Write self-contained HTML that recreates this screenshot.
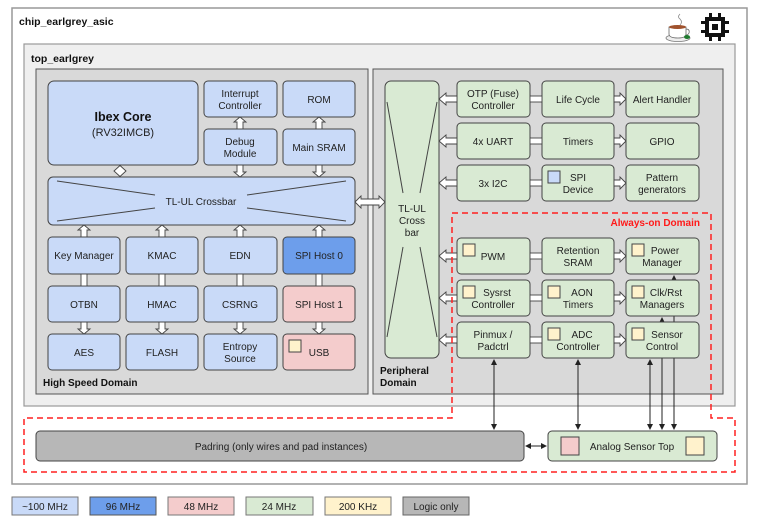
<!DOCTYPE html>
<html><head><meta charset="utf-8"><style>
html,body{margin:0;padding:0;background:#fff;}
svg{display:block;font-family:"Liberation Sans",sans-serif;}
</style></head><body>
<svg width="761" height="529" viewBox="0 0 761 529" xmlns="http://www.w3.org/2000/svg">
<defs>
<marker id="ah" markerWidth="6" markerHeight="6" refX="5" refY="3" orient="auto" markerUnits="userSpaceOnUse"><path d="M0,0 L6,3 L0,6 z" fill="#222"/></marker>
<marker id="as" markerWidth="6" markerHeight="6" refX="1" refY="3" orient="auto" markerUnits="userSpaceOnUse"><path d="M6,0 L0,3 L6,6 z" fill="#222"/></marker>
</defs>
<rect x="12" y="8" width="735" height="476" fill="#fff" stroke="#999" stroke-width="1.5"/>
<text x="19" y="25" font-size="10.5" font-weight="bold" fill="#111">chip_earlgrey_asic</text>
<rect x="24" y="44" width="711" height="362" fill="#efefef" stroke="#999" stroke-width="1.2"/>
<text x="31" y="62" font-size="10.5" font-weight="bold" fill="#111">top_earlgrey</text>
<rect x="36" y="69" width="332" height="325" fill="#d9d9d9" stroke="#555" stroke-width="1"/>
<rect x="373" y="69" width="350" height="325" fill="#d9d9d9" stroke="#555" stroke-width="1"/>
<text x="43" y="386" font-size="10" font-weight="bold" fill="#111">High Speed Domain</text>
<text x="380" y="374" font-size="10" font-weight="bold" fill="#111">Peripheral</text>
<text x="380" y="386" font-size="10" font-weight="bold" fill="#111">Domain</text>

<!-- thin connectors (behind blocks) -->
<g stroke="#222" stroke-width="1" fill="none">
<line x1="494" y1="360" x2="494" y2="429" marker-start="url(#as)" marker-end="url(#ah)"/>
<line x1="578" y1="360" x2="578" y2="429" marker-start="url(#as)" marker-end="url(#ah)"/>
<line x1="650" y1="360" x2="650" y2="429" marker-start="url(#as)" marker-end="url(#ah)"/>
<line x1="662" y1="358" x2="662" y2="429" marker-end="url(#ah)"/>
<line x1="674" y1="316" x2="674" y2="429" marker-end="url(#ah)"/>
<line x1="662" y1="322" x2="662" y2="318" marker-end="url(#ah)"/>
<line x1="674" y1="280" x2="674" y2="276" marker-end="url(#ah)"/>
<line x1="526" y1="446" x2="546" y2="446" marker-start="url(#as)" marker-end="url(#ah)"/>
</g>

<g stroke="#444" stroke-width="1" font-size="10" text-anchor="middle" fill="#222">
<g fill="#c9daf8">
<rect x="48" y="81" width="150" height="84" rx="6"/>
<rect x="204" y="81" width="73" height="36" rx="4"/>
<rect x="283" y="81" width="72" height="36" rx="4"/>
<rect x="204" y="129" width="73" height="36" rx="4"/>
<rect x="283" y="129" width="72" height="36" rx="4"/>
<rect x="48" y="177" width="307" height="48" rx="5"/>
<rect x="48" y="237" width="72" height="37" rx="4"/>
<rect x="126" y="237" width="72" height="37" rx="4"/>
<rect x="204" y="237" width="73" height="37" rx="4"/>
<rect x="48" y="286" width="72" height="36" rx="4"/>
<rect x="126" y="286" width="72" height="36" rx="4"/>
<rect x="204" y="286" width="73" height="36" rx="4"/>
<rect x="48" y="334" width="72" height="36" rx="4"/>
<rect x="126" y="334" width="72" height="36" rx="4"/>
<rect x="204" y="334" width="73" height="36" rx="4"/>
</g>
<rect x="283" y="237" width="72" height="37" rx="4" fill="#6d9eeb"/>
<rect x="283" y="286" width="72" height="36" rx="4" fill="#f4cccc"/>
<rect x="283" y="334" width="72" height="36" rx="4" fill="#f4cccc"/>
<rect x="289" y="340" width="12" height="12" fill="#fff2cc"/>
<line x1="57" y1="181" x2="155" y2="195"/><line x1="247" y1="195" x2="346" y2="181"/>
<line x1="57" y1="221" x2="155" y2="208"/><line x1="247" y1="208" x2="346" y2="221"/>

<g fill="#d9ead3">
<rect x="385" y="81" width="54" height="277" rx="6"/>
<rect x="457" y="81" width="73" height="36" rx="4"/><rect x="542" y="81" width="72" height="36" rx="4"/><rect x="626" y="81" width="73" height="36" rx="4"/>
<rect x="457" y="123" width="73" height="36" rx="4"/><rect x="542" y="123" width="72" height="36" rx="4"/><rect x="626" y="123" width="73" height="36" rx="4"/>
<rect x="457" y="165" width="73" height="36" rx="4"/><rect x="542" y="165" width="72" height="36" rx="4"/><rect x="626" y="165" width="73" height="36" rx="4"/>
<rect x="457" y="238" width="73" height="36" rx="4"/><rect x="542" y="238" width="72" height="36" rx="4"/><rect x="626" y="238" width="73" height="36" rx="4"/>
<rect x="457" y="280" width="73" height="36" rx="4"/><rect x="542" y="280" width="72" height="36" rx="4"/><rect x="626" y="280" width="73" height="36" rx="4"/>
<rect x="457" y="322" width="73" height="36" rx="4"/><rect x="542" y="322" width="72" height="36" rx="4"/><rect x="626" y="322" width="73" height="36" rx="4"/>
<rect x="548" y="431" width="169" height="30" rx="4"/>
</g>
<rect x="36" y="431" width="488" height="30" rx="4" fill="#b7b7b7"/>
<line x1="387" y1="102" x2="403" y2="193"/><line x1="437" y1="102" x2="420" y2="193"/>
<line x1="403" y1="247" x2="387" y2="337"/><line x1="420" y1="247" x2="437" y2="337"/>
<rect x="548" y="171" width="12" height="12" fill="#c9daf8"/>
<g fill="#fff2cc">
<rect x="463" y="244" width="12" height="12"/><rect x="632" y="244" width="12" height="12"/>
<rect x="463" y="286" width="12" height="12"/><rect x="548" y="286" width="12" height="12"/><rect x="632" y="286" width="12" height="12"/>
<rect x="548" y="328" width="12" height="12"/><rect x="632" y="328" width="12" height="12"/>
<rect x="686" y="437" width="18" height="18"/>
</g>
<rect x="561" y="437" width="18" height="18" fill="#f4cccc"/>

<g fill="#fff" stroke="#444" stroke-width="0.9">
<polygon points="120,165.5 126,171 120,176.5 114,171"/>
<polygon points="237,129 237,122 234,122 240,117 246,122 243,122 243,129"/>
<polygon points="316,129 316,122 313,122 319,117 325,122 322,122 322,129"/>
<polygon points="81,237 81,230 78,230 84,225 90,230 87,230 87,237"/>
<polygon points="159,237 159,230 156,230 162,225 168,230 165,230 165,237"/>
<polygon points="237,237 237,230 234,230 240,225 246,230 243,230 243,237"/>
<polygon points="316,237 316,230 313,230 319,225 325,230 322,230 322,237"/>
<polygon points="237,165 237,172 234,172 240,177 246,172 243,172 243,165"/>
<polygon points="316,165 316,172 313,172 319,177 325,172 322,172 322,165"/>
<polygon points="81,322 81,329 78,329 84,334 90,329 87,329 87,322"/>
<polygon points="159,322 159,329 156,329 162,334 168,329 165,329 165,322"/>
<polygon points="237,322 237,329 234,329 240,334 246,329 243,329 243,322"/>
<polygon points="316,322 316,329 313,329 319,334 325,329 322,329 322,322"/>
<rect x="81" y="274" width="6" height="12"/><rect x="159" y="274" width="6" height="12"/>
<rect x="237" y="274" width="6" height="12"/><rect x="316" y="274" width="6" height="12"/>
<polygon points="355,202 361,196 361,199 379,199 379,196 385,202 379,208 379,205 361,205 361,208"/>
<polygon points="457,96 446,96 446,93 439,99 446,105 446,102 457,102"/>
<polygon points="457,138 446,138 446,135 439,141 446,147 446,144 457,144"/>
<polygon points="457,180 446,180 446,177 439,183 446,189 446,186 457,186"/>
<polygon points="457,253 446,253 446,250 439,256 446,262 446,259 457,259"/>
<polygon points="457,295 446,295 446,292 439,298 446,304 446,301 457,301"/>
<polygon points="457,337 446,337 446,334 439,340 446,346 446,343 457,343"/>
<rect x="530" y="96" width="12" height="6"/><rect x="530" y="138" width="12" height="6"/><rect x="530" y="180" width="12" height="6"/>
<rect x="530" y="253" width="12" height="6"/><rect x="530" y="295" width="12" height="6"/><rect x="530" y="337" width="12" height="6"/>
<polygon points="614,96 620,96 620,93 626,99 620,105 620,102 614,102"/>
<polygon points="614,138 620,138 620,135 626,141 620,147 620,144 614,144"/>
<polygon points="614,180 620,180 620,177 626,183 620,189 620,186 614,186"/>
<polygon points="614,253 620,253 620,250 626,256 620,262 620,259 614,259"/>
<polygon points="614,295 620,295 620,292 626,298 620,304 620,301 614,301"/>
<polygon points="614,337 620,337 620,334 626,340 620,346 620,343 614,343"/>
</g>
<path d="M452,213 L711,213 L711,418 L735,418 L735,472 L24,472 L24,418 L452,418 Z" fill="none" stroke="#ff2020" stroke-width="1.5" stroke-dasharray="6,4"/>
</g>

<g font-size="10" text-anchor="middle" fill="#222">
<text x="123" y="121" font-size="12.5" font-weight="bold" fill="#111">Ibex Core</text>
<text x="123" y="136" font-size="11">(RV32IMCB)</text>
<text x="240" y="97">Interrupt</text><text x="240" y="109">Controller</text>
<text x="319" y="103">ROM</text>
<text x="240" y="145">Debug</text><text x="240" y="157">Module</text>
<text x="319" y="151">Main SRAM</text>
<text x="201" y="205">TL-UL Crossbar</text>
<text x="84" y="259">Key Manager</text><text x="162" y="259">KMAC</text><text x="240" y="259">EDN</text><text x="319" y="259">SPI Host 0</text>
<text x="84" y="308">OTBN</text><text x="162" y="308">HMAC</text><text x="240" y="308">CSRNG</text><text x="319" y="308">SPI Host 1</text>
<text x="84" y="356">AES</text><text x="162" y="356">FLASH</text><text x="240" y="350">Entropy</text><text x="240" y="362">Source</text><text x="319" y="356">USB</text>
<text x="412" y="212">TL-UL</text><text x="412" y="224">Cross</text><text x="412" y="236">bar</text>
<text x="493" y="97">OTP (Fuse)</text><text x="493" y="109">Controller</text>
<text x="578" y="103">Life Cycle</text><text x="662" y="103">Alert Handler</text>
<text x="493" y="145">4x UART</text><text x="578" y="145">Timers</text><text x="662" y="145">GPIO</text>
<text x="493" y="187">3x I2C</text><text x="578" y="181">SPI</text><text x="578" y="193">Device</text>
<text x="662" y="181">Pattern</text><text x="662" y="193">generators</text>
<text x="493" y="260">PWM</text><text x="578" y="254">Retention</text><text x="578" y="266">SRAM</text>
<text x="665" y="254">Power</text><text x="662" y="266">Manager</text>
<text x="497" y="296">Sysrst</text><text x="493" y="308">Controller</text>
<text x="582" y="296">AON</text><text x="578" y="308">Timers</text>
<text x="666" y="296">Clk/Rst</text><text x="662" y="308">Managers</text>
<text x="493" y="338">Pinmux /</text><text x="493" y="350">Padctrl</text>
<text x="582" y="338">ADC</text><text x="578" y="350">Controller</text>
<text x="667" y="338">Sensor</text><text x="662" y="350">Control</text>
<text x="281" y="450">Padring (only wires and pad instances)</text>
<text x="632" y="450">Analog Sensor Top</text>
<text x="700" y="226" font-weight="bold" fill="#ff1a1a" text-anchor="end">Always-on Domain</text>
</g>

<g font-size="10" text-anchor="middle" fill="#222" stroke-width="1">
<rect x="12" y="497" width="66" height="18" fill="#c9daf8" stroke="#777"/><text x="45" y="510">~100 MHz</text>
<rect x="90" y="497" width="66" height="18" fill="#6d9eeb" stroke="#555"/><text x="123" y="510">96 MHz</text>
<rect x="168" y="497" width="66" height="18" fill="#f4cccc" stroke="#777"/><text x="201" y="510">48 MHz</text>
<rect x="246" y="497" width="67" height="18" fill="#d9ead3" stroke="#777"/><text x="279" y="510">24 MHz</text>
<rect x="325" y="497" width="66" height="18" fill="#fff2cc" stroke="#777"/><text x="358" y="510">200 KHz</text>
<rect x="403" y="497" width="66" height="18" fill="#b7b7b7" stroke="#666"/><text x="436" y="510">Logic only</text>
</g>

<g>
<path d="M680,14 q-3,3 0,5 q3,3 0,6" fill="none" stroke="#888" stroke-width="0.8"/>
<ellipse cx="678" cy="38" rx="12" ry="3.5" fill="#eee" stroke="#777" stroke-width="0.8"/>
<path d="M669,27 h17 v7 q0,4 -8,4 q-9,0 -9,-4 z" fill="#fff" stroke="#666" stroke-width="0.8"/>
<ellipse cx="677.5" cy="27" rx="8.5" ry="2" fill="#a0522d"/>
<path d="M686,29 q4,0 3,4 q-1,2 -3,2" fill="none" stroke="#666" stroke-width="0.8"/>
<ellipse cx="687" cy="37" rx="3" ry="2" fill="#1e7a2e"/>
<g fill="#111">
<rect x="705" y="17" width="20" height="20"/>
<rect x="709" y="13" width="3" height="28"/><rect x="718" y="13" width="3" height="28"/>
<rect x="701" y="21" width="28" height="3"/><rect x="701" y="30" width="28" height="3"/>
</g>
<rect x="709" y="21" width="12" height="12" fill="#fff"/>
<rect x="712" y="24" width="6" height="6" fill="#111"/>
</g>
</svg>
</body></html>
